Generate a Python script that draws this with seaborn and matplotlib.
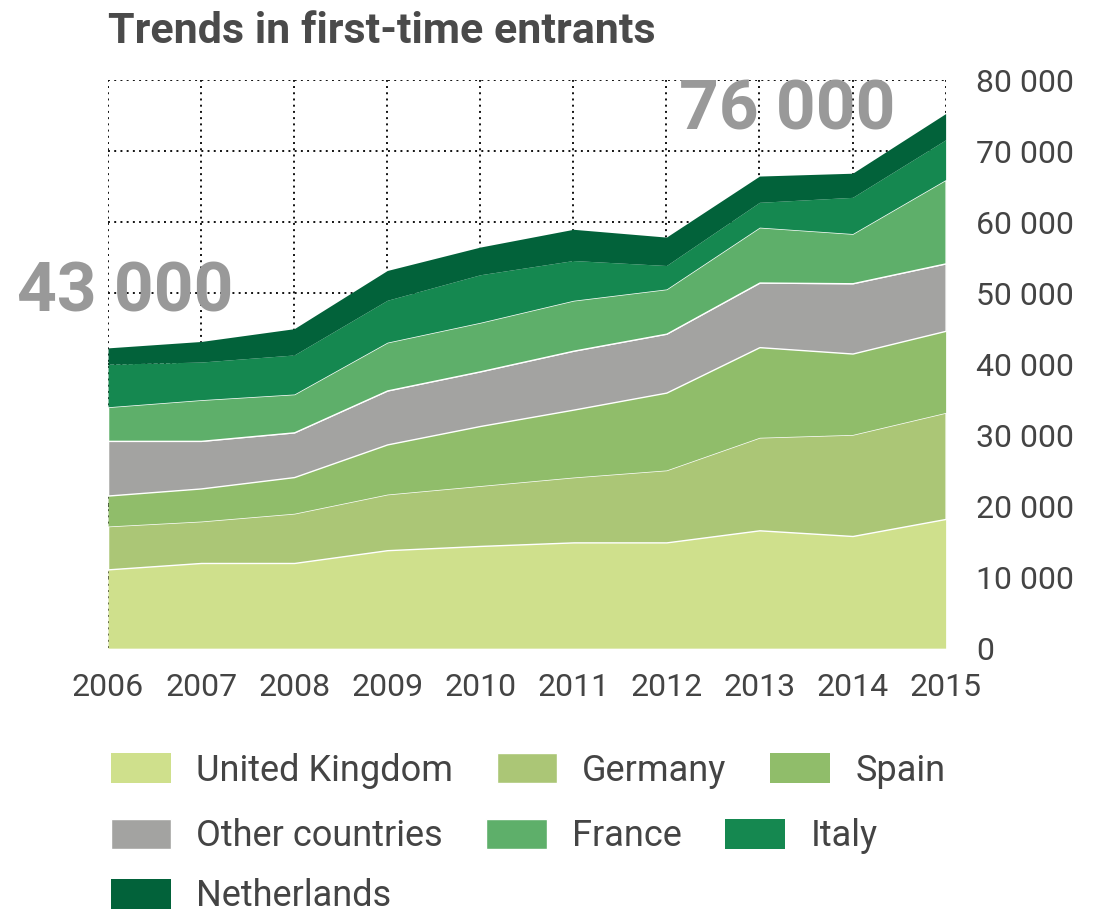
import numpy as np
import matplotlib
matplotlib.use("Agg")
import matplotlib.pyplot as plt
import seaborn as sns

# Datos (valores aproximados por país, apilados)
years = [2006, 2007, 2008, 2009, 2010, 2011, 2012, 2013, 2014, 2015]
united_kingdom = [11100, 12000, 12000, 13800, 14400, 14900, 14900, 16600, 15800, 18200]
germany = [6100, 5900, 7000, 7900, 8500, 9200, 10200, 13100, 14300, 15000]
spain = [4300, 4600, 5100, 7000, 8400, 9500, 10900, 12700, 11400, 11500]
other_countries = [7700, 6700, 6300, 7600, 7700, 8300, 8300, 9100, 9900, 9500]
france = [4800, 5800, 5400, 6800, 6900, 7100, 6300, 7800, 7000, 11800]
italy = [6000, 5300, 5500, 5900, 6700, 5600, 3300, 3500, 5100, 5600]
netherlands = [2300, 2900, 3700, 4200, 3900, 4400, 4000, 3700, 3400, 3700]

labels = ["United Kingdom", "Germany", "Spain", "Other countries",
          "France", "Italy", "Netherlands"]
colors = ["#cfe08c", "#abc676", "#90bd6a", "#a3a3a1",
          "#5eaf6a", "#158850", "#02623a"]
y_ticks = [0, 10000, 20000, 30000, 40000, 50000, 60000, 70000, 80000]

sns.set_style("white")
plt.rcParams['font.family'] = ['Roboto', 'DejaVu Sans']

fig = plt.figure(figsize=(10.97, 9.22), dpi=100)
ax = fig.add_axes([0.0985, 0.297, 0.7635, 0.616])

series = [united_kingdom, germany, spain, other_countries, france, italy, netherlands]
polys = ax.stackplot(years, *series, colors=colors, labels=labels, linewidth=0, zorder=2)
# Líneas blancas finas entre algunas capas
for i in [1, 3, 4]:
    polys[i].set_edgecolor("white")
    polys[i].set_linewidth(1.0)

ax.set_xlim(2006, 2015)
ax.set_ylim(0, 80000)
ax.set_xticks(years)
ax.set_yticks(y_ticks)
ax.set_yticklabels([f"{v:,}".replace(",", " ") for v in y_ticks])
ax.yaxis.tick_right()
ax.grid(True, linestyle=(0, (1, 2.2)), color="#111111", linewidth=1.4, zorder=1)
ax.set_axisbelow(True)
for s in ax.spines.values():
    s.set_visible(False)
ax.tick_params(axis="y", length=0, pad=22, labelsize=23, labelcolor="#444444")
ax.tick_params(axis="x", length=0, pad=18, labelsize=23, labelcolor="#444444")

ax.text(2006.18, 50000, "43 000", ha="center", va="center", fontsize=50,
        fontweight="bold", color="#999999", clip_on=False, zorder=3)
ax.text(2013.3, 75600, "76 000", ha="center", va="center", fontsize=50,
        fontweight="bold", color="#999999", zorder=3)

fig.text(0.0985, 0.966, "Trends in first-time entrants", ha="left", va="center",
         fontsize=31, fontweight="bold", color="#4a4a4a")

# Leyenda en filas (flujo libre como en el original)
rows = [[0, 1, 2], [3, 4, 5], [6]]
row_tops = [0.211, 0.140, 0.075]
for idx, top in zip(rows, row_tops):
    leg = fig.legend([polys[i] for i in idx], [labels[i] for i in idx],
                     loc="upper left", bbox_to_anchor=(0.078, top), ncol=len(idx),
                     frameon=False, fontsize=26, handlelength=1.67, handleheight=0.9,
                     columnspacing=1.2, handletextpad=0.7, labelcolor="#444444",
                     borderpad=0.2)

plt.savefig("out.png", dpi=100)
